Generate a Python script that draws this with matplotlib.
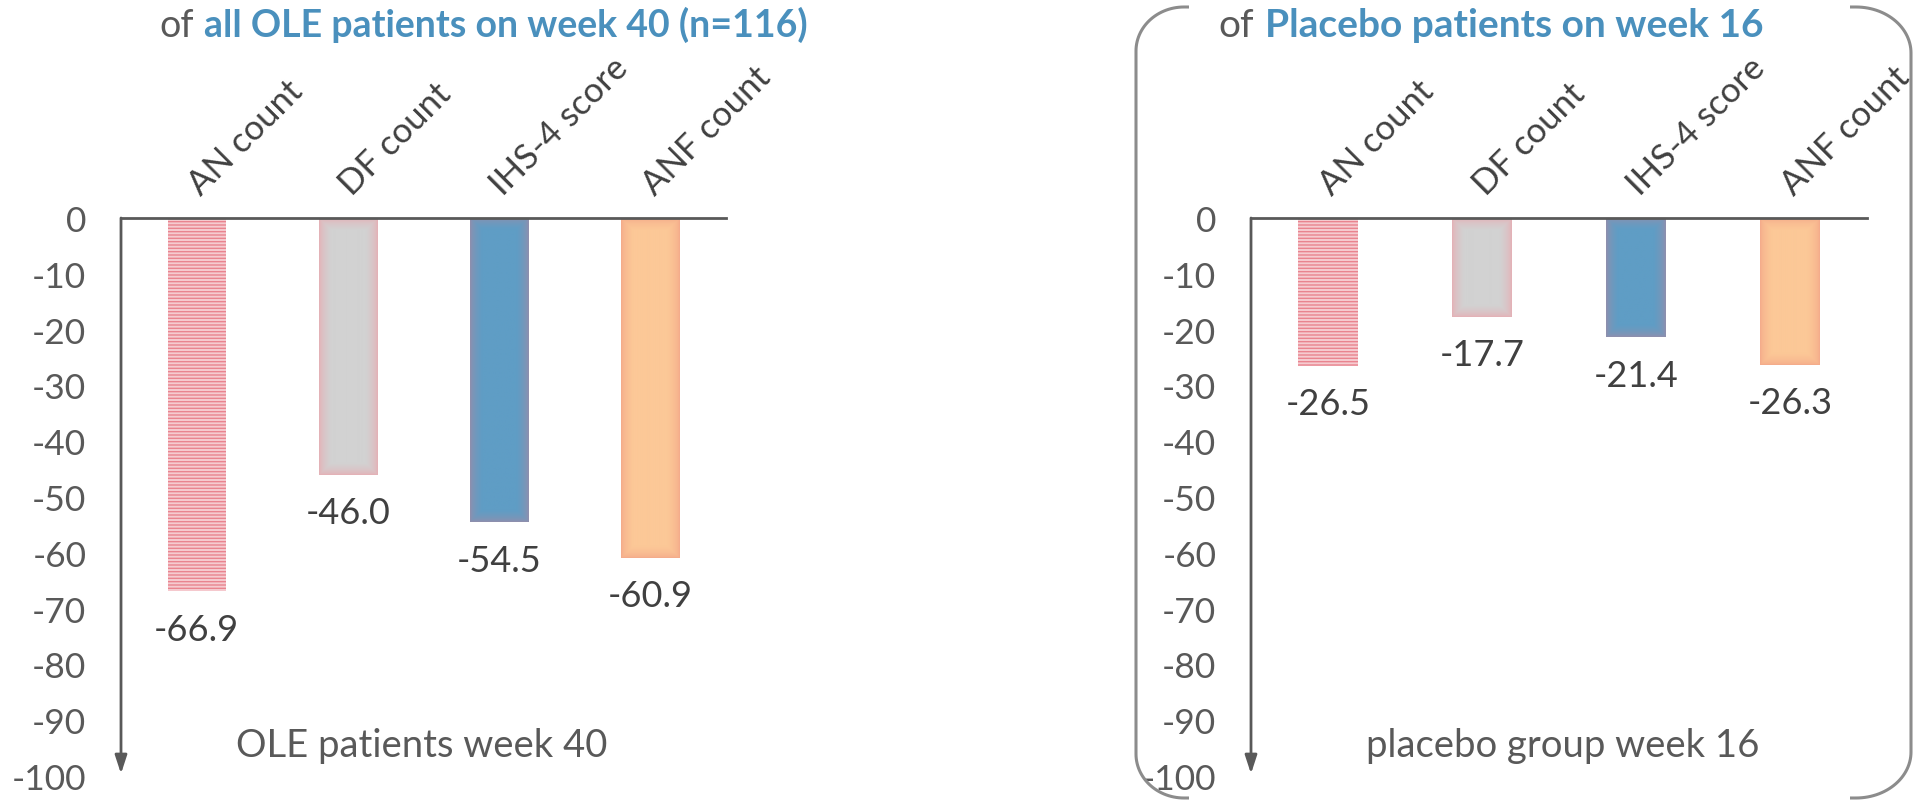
import matplotlib.pyplot as plt
import matplotlib.colors as mcolors
import numpy as np
from matplotlib.lines import Line2D

# chart data
categories = ["AN count", "DF count", "IHS-4 score", "ANF count"]
ole_week40 = [-66.9, -46.0, -54.5, -60.9]
placebo_week16 = [-26.5, -17.7, -21.4, -26.3]
y_ticks = list(range(0, -101, -10))
panel_titles = ["all OLE patients on week 40 (n=116)", "Placebo patients on week 16"]
panel_notes = ["OLE patients week 40", "placebo group week 16"]

W, H = 1913, 803
plt.rcParams["font.family"] = ["Lato", "DejaVu Sans"]

AXIS = "#595959"
TEXT = "#404040"
BLUE = "#4A90BD"

# (inner colour, soft edge colour) for the plain bars, AN bar is striped
soft = [None, ("#D2D2D2", "#E8AAB1"), ("#5F9DC5", "#9A8CA8"), ("#FCC897", "#F3A688")]


def fx(px):
    return px / W


def fy(py):
    return 1 - py / H


fig = plt.figure(figsize=(W / 100, H / 100), dpi=100)


def soft_fill(ax, bar, inner, edge, fade=12.0):
    "paint a bar with colour fading to a glow at its edges"
    x0, w, h = bar.get_x(), bar.get_width(), bar.get_height()
    (px0, py0), (px1, py1) = ax.transData.transform([(x0, 0), (x0 + w, h)])
    nx, ny = int(round(abs(px1 - px0))), int(round(abs(py1 - py0)))
    xs = np.arange(nx) + 0.5
    ys = np.arange(ny) + 0.5
    d = np.minimum(np.minimum(xs, nx - xs)[None, :], np.minimum(ys, ny - ys)[:, None])
    t = np.clip(d / fade, 0, 1)
    t = np.sqrt(t)
    c0 = np.array(mcolors.to_rgb(edge))
    c1 = np.array(mcolors.to_rgb(inner))
    img = c0 + (c1 - c0) * t[..., None]
    ax.imshow(img, extent=(x0, x0 + w, h, 0), aspect="auto", interpolation="bilinear", zorder=3)


def panel(left, right, values):
    ax = fig.add_axes([fx(left), fy(777), fx(right - left), (777 - 219) / H])
    x = np.arange(len(categories))
    ax.set_xlim(-0.5, len(categories) - 0.5)
    ax.set_ylim(-100, 0)
    bars = ax.bar(x, values, width=0.385, color=[s[0] if s else "#F6CBD0" for s in soft], linewidth=0, zorder=2)
    bars[0].set_hatch("-----")
    bars[0].set_edgecolor("#E9848F")
    bars[0].set_linewidth(0)
    for b, s in zip(bars, soft):
        if s:
            soft_fill(ax, b, *s)
    ax.set_xlim(-0.5, len(categories) - 0.5)
    ax.set_ylim(-100, 0)

    for side in ["left", "right", "bottom"]:
        ax.spines[side].set_visible(False)
    ax.spines["top"].set_color(AXIS)
    ax.spines["top"].set_linewidth(2)
    ax.spines["top"].set_zorder(5)
    ax.annotate(
        "",
        xy=(-0.5, -99.6),
        xytext=(-0.5, 0),
        arrowprops=dict(
            arrowstyle="-|>,head_length=0.55,head_width=0.18",
            color=AXIS,
            lw=2,
            shrinkA=0,
            shrinkB=0,
            mutation_scale=20,
        ),
        annotation_clip=False,
    )

    ax.set_xticks([])
    ax.set_yticks(y_ticks)
    ax.set_yticklabels([str(v) for v in y_ticks])
    ax.tick_params(axis="y", length=0, pad=25, labelsize=25.5, labelcolor=AXIS)

    for i, (cat, v) in enumerate(zip(categories, values)):
        ax.annotate(
            cat,
            xy=(i, 0),
            xytext=(3, 16),
            textcoords="offset points",
            rotation=45,
            rotation_mode="anchor",
            ha="left",
            va="baseline",
            fontsize=25,
            color=TEXT,
            annotation_clip=False,
        )
        ax.annotate(
            f"{v:.1f}",
            xy=(i, v),
            xytext=(0, -35),
            textcoords="offset points",
            ha="center",
            va="baseline",
            fontsize=26,
            color=TEXT,
        )
    return ax


panel(121, 726, ole_week40)
panel(1251, 1867, placebo_week16)

# titles: grey "of" followed by the bold blue part
for of_x, bold_x, size, title in [(159, 204, 27, panel_titles[0]), (1218, 1265, 28, panel_titles[1])]:
    fig.text(fx(of_x), fy(37), "of", fontsize=size, color=AXIS, va="baseline")
    fig.text(fx(bold_x), fy(37), title, fontsize=size, color=BLUE, weight="bold", va="baseline")

for cx, note in [(422, panel_notes[0]), (1563, panel_notes[1])]:
    fig.text(fx(cx), fy(757), note, fontsize=27.5, color=AXIS, ha="center", va="baseline")


def bracket(x_edge, x_end, top, bottom, rx, ry, d):
    "one half of a double bracket, d=+1 opens right, d=-1 opens left"
    t = np.linspace(0, np.pi / 2, 30)
    cx = x_edge + d * rx
    xs = [x_end]
    ys = [top]
    xs += list(cx - d * rx * np.sin(t))
    ys += list(top + ry - ry * np.cos(t))
    xs += list(cx - d * rx * np.cos(t))
    ys += list(bottom - ry + ry * np.sin(t))
    xs.append(x_end)
    ys.append(bottom)
    xs = np.array(xs)
    ys = np.array(ys)
    fig.add_artist(
        Line2D(xs / W, 1 - ys / H, transform=fig.transFigure, color="#8C8C8C", lw=2.2, solid_capstyle="butt")
    )


bracket(1136, 1189, 8, 799, 48, 44, 1)
bracket(1911, 1850, 8, 799, 55, 46, -1)

fig.savefig("out.png", dpi=100)
